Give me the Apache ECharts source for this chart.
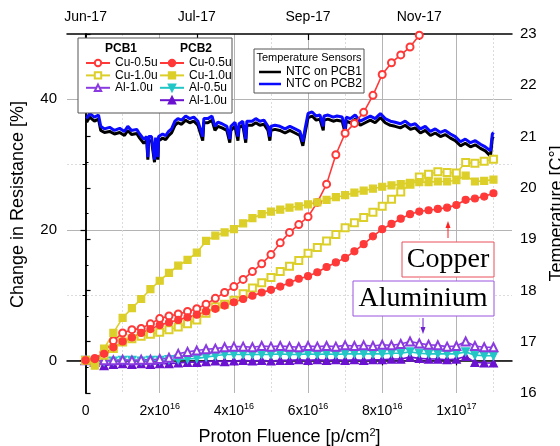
<!DOCTYPE html>
<html>
<head>
<meta charset="utf-8">
<script src="https://cdn.jsdelivr.net/npm/echarts@6/dist/echarts.min.js"></script>
<style>html,body{margin:0;padding:0;background:#fff}#c{width:560px;height:446px}</style>
</head>
<body>
<div id="c"></div>
<script>
// ---------- data (fluence in units of 1e16 p/cm^2) ----------
const fluence = [0,0.25,0.5,0.75,1,1.25,1.5,1.75,2,2.25,2.5,2.75,3,3.25,3.5,3.75,4,4.25,4.5,4.75,5,5.25,5.5,5.75,6,6.25,6.5,6.75,7,7.25,7.5,7.75,8,8.25,8.5,8.75,9,9.25,9.5,9.75,10,10.25,10.5,10.75,11];
const cu05PCB1 = [0,0.3,1.2,3.0,4.2,4.7,4.9,5.6,6.4,6.8,7.1,7.5,7.9,8.6,9.5,10.4,11.3,12.4,13.6,14.8,16.2,18.0,19.6,20.8,22.0,24.2,27.0,31.5,34.8,36.3,38.0,40.6,43.8,45.6,46.8,48.0,49.8,52.0,54.0,null,null,null,null,null,null];
const cu10PCB1 = [0,-0.3,0.8,1.8,2.8,3.3,3.7,4.0,4.3,4.7,5.1,5.6,6.2,7.2,8.2,8.6,9.2,10.2,11.1,11.9,12.7,13.6,14.4,15.3,16.4,17.3,18.3,19.3,20.3,21.1,21.9,22.7,23.6,24.7,25.8,27.0,28.1,28.5,28.9,28.8,28.7,30.3,30.2,30.5,30.8];
const al10PCB1 = [0,-0.2,0,0,0.1,0,0.1,0.1,0.2,0.4,1.0,1.3,1.5,1.7,1.8,2.0,2.1,2.1,2.0,2.2,2.1,2.2,2.1,2.0,2.2,2.1,2.2,2.1,2.3,2.2,2.3,2.2,2.4,2.3,2.5,2.9,2.6,2.4,2.3,2.1,2.2,2.9,2.2,2.0,2.0];
const cu05PCB2 = [0,0.2,1.0,2.0,2.9,3.5,4.2,4.8,5.4,5.8,6.2,6.6,7.0,7.5,7.9,8.4,8.9,9.4,9.9,10.4,10.8,11.3,11.9,12.5,12.9,13.5,14.3,15.0,15.7,16.7,17.8,19.0,20.1,20.9,21.7,22.4,22.8,23.0,23.2,23.4,23.8,24.6,24.8,25.1,25.6];
const cu10PCB2 = [0,-0.8,1.8,4.2,6.5,8.0,9.4,10.9,12.2,13.4,14.5,15.4,16.5,18.3,19.1,19.6,20.1,21.0,21.8,22.4,22.8,23.1,23.4,23.6,23.9,24.2,24.6,25.0,25.3,25.7,26.0,26.3,26.6,26.8,27.0,27.2,27.3,27.3,27.4,27.4,27.6,28.3,27.4,27.5,27.7];
const al05PCB2 = [0,-0.3,-0.2,-0.1,0,0,-0.1,0,0,0.1,0.1,0.2,0.3,0.5,0.7,0.9,0.9,0.9,0.9,0.9,0.9,1.0,0.9,0.9,1.0,0.9,1.0,0.9,1.0,1.0,1.0,1.0,1.0,1.1,1.1,1.3,1.1,1.0,1.0,1.0,1.0,1.3,0.8,0.7,0.7];
const al10PCB2 = [0,-0.3,-0.8,-0.6,-0.5,-0.6,-0.5,-0.6,-0.5,-0.5,-0.4,-0.3,-0.3,-0.2,-0.1,-0.2,-0.1,0,-0.1,0,-0.1,0,0,0.1,0,0.1,0,0.1,0,0.1,0,0.1,0.1,0.2,0.2,0.5,0.3,0.2,0.2,0.1,0.2,0.6,-0.3,-0.4,-0.4];

const tempX = [0.03,0.11,0.24,0.35,0.41,0.51,0.65,0.78,0.92,1.05,1.14,1.24,1.38,1.46,1.57,1.65,1.68,1.70,1.78,1.86,1.89,1.95,1.97,2.08,2.16,2.24,2.32,2.41,2.49,2.59,2.70,2.81,2.92,3.03,3.16,3.19,3.30,3.41,3.49,3.57,3.68,3.81,3.89,3.92,4.03,4.11,4.14,4.24,4.32,4.35,4.49,4.59,4.70,4.81,4.92,4.97,5.00,5.11,5.24,5.38,5.51,5.65,5.78,5.86,5.92,6.00,6.11,6.22,6.32,6.41,6.43,6.54,6.68,6.78,6.92,7.00,7.03,7.14,7.27,7.41,7.54,7.68,7.81,7.95,8.08,8.22,8.35,8.49,8.62,8.76,8.89,9.03,9.16,9.30,9.43,9.57,9.70,9.84,9.97,10.11,10.24,10.38,10.51,10.65,10.78,10.92,10.97,11.00];
const ntcPCB2 = [21.35,21.45,21.38,21.42,21.2,21.15,21.18,21.12,21.16,21.1,21.2,21.12,21.14,21.05,20.95,21.0,20.6,21.0,21.0,20.55,20.98,20.6,21.0,21.05,21.02,21.1,21.15,21.3,21.35,21.32,21.4,21.35,21.38,21.3,21.0,21.35,21.35,21.4,21.2,21.28,21.25,21.2,20.95,21.2,21.28,21.0,21.25,21.3,20.95,21.3,21.3,21.35,21.3,21.32,21.2,21.0,21.2,21.22,21.2,21.15,21.2,21.15,21.1,20.9,21.15,21.45,21.48,21.4,21.42,21.2,21.4,21.42,21.38,21.4,21.38,21.15,21.38,21.35,21.42,21.3,21.35,21.4,21.35,21.45,21.35,21.3,21.28,21.25,21.3,21.22,21.25,21.15,21.2,21.1,21.15,21.08,21.12,21.05,21.0,20.9,20.95,20.88,20.92,20.85,20.8,20.72,21.05,21.08];
const ntcPCB1 = [21.28,21.38,21.3,21.34,21.12,21.08,21.1,21.05,21.08,21.02,21.12,21.04,21.06,20.97,20.87,20.92,20.55,20.92,20.92,20.5,20.9,20.55,20.92,20.97,20.94,21.02,21.07,21.22,21.27,21.24,21.32,21.27,21.3,21.22,20.92,21.27,21.27,21.32,21.12,21.2,21.17,21.12,20.88,21.12,21.2,20.92,21.17,21.22,20.88,21.22,21.22,21.27,21.22,21.24,21.12,20.92,21.12,21.14,21.12,21.07,21.12,21.07,21.02,20.82,21.07,21.37,21.4,21.32,21.34,21.12,21.32,21.34,21.3,21.32,21.3,21.07,21.3,21.27,21.34,21.22,21.27,21.32,21.27,21.37,21.27,21.22,21.2,21.17,21.22,21.14,21.17,21.07,21.12,21.02,21.07,21.0,21.04,20.97,20.92,20.82,20.87,20.8,20.84,20.77,20.72,20.62,20.97,21.0];

// tick labels
const fluenceTicks = [0, 2, 4, 6, 8, 10];
const fluenceMinorTicks = [1, 3, 5, 7, 9, 11];
const dateTickPos = [0, 3, 6, 9];
const dateLabels = ['Jun-17', 'Jul-17', 'Sep-17', 'Nov-17'];
const resTicks = [0, 20, 40];
const resMinorTicks = [10, 30];

// ---------- chart ----------
const FONT = 'Liberation Sans, Arial, sans-serif';
const pair = (xs, ys) => xs.map((x, i) => [x, ys[i]]).filter(p => p[1] !== null);
const fmtFluence = v => {
  if (Math.abs(v) < 1e-9) return '{b|0}';
  if (Math.abs(v - 10) < 1e-9) return '{b|1x10}{s|17}';
  return '{b|' + Math.round(v) + 'x10}{s|16}';
};
const richSup = {
  b: { fontSize: 14, fontFamily: FONT, color: '#000', lineHeight: 16, verticalAlign: 'bottom' },
  s: { fontSize: 9, fontFamily: FONT, color: '#000', lineHeight: 9, verticalAlign: 'top' }
};
const axisBlack = { show: true, lineStyle: { color: '#000', width: 1.5 } };
const gridSolid = { show: true, lineStyle: { color: '#b4b4b4', width: 1 } };
const gridMinor = { show: true, lineStyle: { color: '#dcdcdc', width: 1, type: [2, 2] } };

const C = {
  red: '#ff3838', yellow: '#dccf2a', cyan: '#22c6c6', purpleOpen: '#8a3be0', purple: '#6a12d0'
};

function resSeries(name, ys, color, symbol, size, extra) {
  return Object.assign({
    name: name, type: 'line', xAxisIndex: 0, yAxisIndex: 0,
    data: pair(fluence, ys),
    symbol: symbol, symbolSize: size, showSymbol: true,
    lineStyle: { color: color, width: 1.6 },
    itemStyle: { color: color, borderColor: color, borderWidth: 1.2 },
    z: 3
  }, extra || {});
}

const chart = echarts.init(document.getElementById('c'), null, { renderer: 'canvas' });
const legendText = { fontFamily: FONT, fontSize: 12, color: '#000', lineHeight: 12 };
const stripName = n => n.replace(/ \(PCB\d\)$/, '');

chart.setOption({
  animation: false,
  backgroundColor: '#fff',
  grid: { left: 67, right: 48, top: 34, bottom: 53, containLabel: false, outerBoundsMode: 'none' },
  xAxis: [
    { type: 'value', position: 'bottom', min: -0.5, max: 11.5,
      axisLine: axisBlack,
      axisTick: { show: true, inside: false, length: 5, customValues: fluenceTicks, lineStyle: { color: '#000', width: 1.2 } },
      axisLabel: { customValues: fluenceTicks, formatter: fmtFluence, rich: richSup, margin: 9 },
      splitLine: gridSolid,
      name: '{a|Proton Fluence [p/cm}{s|2}{a|]}', nameLocation: 'middle', nameGap: 34,
      nameTextStyle: { rich: {
        a: { fontSize: 18, fontFamily: FONT, color: '#000', lineHeight: 19, verticalAlign: 'bottom' },
        s: { fontSize: 11, fontFamily: FONT, color: '#000', lineHeight: 11, verticalAlign: 'top' } } }
    },
    { type: 'value', position: 'bottom', min: -0.5, max: 11.5,
      axisLine: { show: false },
      axisTick: { show: true, inside: false, length: 3, customValues: fluenceMinorTicks, lineStyle: { color: '#000', width: 1 } },
      axisLabel: { show: false },
      splitLine: gridMinor
    },
    { type: 'value', position: 'top', min: -0.5, max: 11.5,
      axisLine: axisBlack,
      axisTick: { show: true, inside: true, length: 6, customValues: dateTickPos, lineStyle: { color: '#000', width: 1.2 } },
      axisLabel: { customValues: dateTickPos, margin: 10, fontFamily: FONT, fontSize: 14, color: '#000',
        formatter: v => { const i = dateTickPos.indexOf(Math.round(v)); return i >= 0 ? dateLabels[i] : ''; } },
      splitLine: { show: false }
    }
  ],
  yAxis: [
    { type: 'value', position: 'left', min: -5, max: 50,
      axisLine: axisBlack,
      axisTick: { show: true, inside: false, length: 5, customValues: resTicks, lineStyle: { color: '#000', width: 1.2 } },
      axisLabel: { customValues: resTicks, fontFamily: FONT, fontSize: 15, color: '#000', margin: 10 },
      splitLine: gridSolid,
      name: 'Change in Resistance [%]', nameLocation: 'middle', nameRotate: 90, nameGap: 40,
      nameTextStyle: { fontFamily: FONT, fontSize: 18, color: '#000', padding: [0, 0, 0, 18] }
    },
    { type: 'value', position: 'left', min: -5, max: 50,
      axisLine: { show: false },
      axisTick: { show: true, inside: false, length: 3, customValues: resMinorTicks, lineStyle: { color: '#000', width: 1 } },
      axisLabel: { show: false },
      splitLine: gridMinor
    },
    { type: 'value', position: 'right', min: 16, max: 23, interval: 1,
      axisLine: axisBlack,
      axisTick: { show: true, inside: false, length: 5, lineStyle: { color: '#000', width: 1.2 } },
      minorTick: { show: true, splitNumber: 2, length: 3, lineStyle: { color: '#000', width: 1 } },
      axisLabel: { fontFamily: FONT, fontSize: 15, color: '#000', margin: 8 },
      splitLine: { show: false },
      name: 'Temperature [C°]', nameLocation: 'middle', nameRotate: 90, nameGap: 31,
      nameTextStyle: { fontFamily: FONT, fontSize: 18, color: '#000' }
    }
  ],
  legend: [
    { data: ['Cu-0.5u (PCB1)', 'Cu-1.0u (PCB1)', 'Al-1.0u (PCB1)'], formatter: stripName,
      orient: 'vertical', left: 85, top: 57, padding: 0, itemGap: 0.4, itemWidth: 24, itemHeight: 8,
      textStyle: legendText, selectedMode: false },
    { data: ['Cu-0.5u (PCB2)', 'Cu-1.0u (PCB2)', 'Al-0.5u (PCB2)', 'Al-1.0u (PCB2)'], formatter: stripName,
      orient: 'vertical', left: 159, top: 57, padding: 0, itemGap: 0.4, itemWidth: 24, itemHeight: 8,
      textStyle: legendText, selectedMode: false },
    { data: [{ name: 'NTC on PCB1', icon: 'rect' }, { name: 'NTC on PCB2', icon: 'rect' }],
      orient: 'vertical', left: 259, top: 66, padding: 0, itemGap: 0, itemWidth: 22, itemHeight: 2.5,
      textStyle: { fontFamily: FONT, fontSize: 12, color: '#000', lineHeight: 11 }, selectedMode: false }
  ],
  graphic: [
    { type: 'rect', z: 3, shape: { x: 78, y: 38, width: 154, height: 75 }, style: { fill: '#fff', stroke: '#555', lineWidth: 1 } },
    { type: 'text', z: 5, x: 121, y: 49, style: { text: 'PCB1', font: 'bold 12px ' + FONT, fill: '#000', align: 'center', verticalAlign: 'middle' } },
    { type: 'text', z: 5, x: 196, y: 49, style: { text: 'PCB2', font: 'bold 12px ' + FONT, fill: '#000', align: 'center', verticalAlign: 'middle' } },
    { type: 'rect', z: 3, shape: { x: 254, y: 49, width: 110, height: 44 }, style: { fill: '#fff', stroke: '#555', lineWidth: 1 } },
    { type: 'text', z: 5, x: 309, y: 58, style: { text: 'Temperature Sensors', font: '11px ' + FONT, fill: '#000', align: 'center', verticalAlign: 'middle' } },
    // Copper annotation
    { type: 'rect', z: 5, shape: { x: 402, y: 242, width: 92, height: 35 }, style: { fill: '#fff', stroke: '#e8505a', lineWidth: 1 } },
    { type: 'text', z: 6, x: 448, y: 260, style: { text: 'Copper', font: '28px Liberation Serif, Times New Roman, serif', fill: '#000', align: 'center', verticalAlign: 'middle' } },
    { type: 'line', z: 5, shape: { x1: 448, y1: 238, x2: 448, y2: 226 }, style: { stroke: '#ff2020', lineWidth: 1 } },
    { type: 'polygon', z: 5, shape: { points: [[448, 221], [445.5, 228], [450.5, 228]] }, style: { fill: '#ff2020' } },
    // Aluminium annotation
    { type: 'rect', z: 5, shape: { x: 353, y: 281, width: 141, height: 35 }, style: { fill: '#fff', stroke: '#9a55e0', lineWidth: 1 } },
    { type: 'text', z: 6, x: 423, y: 299, style: { text: 'Aluminium', font: '28px Liberation Serif, Times New Roman, serif', fill: '#000', align: 'center', verticalAlign: 'middle' } },
    { type: 'line', z: 5, shape: { x1: 423, y1: 318, x2: 423, y2: 329 }, style: { stroke: '#7020d0', lineWidth: 1 } },
    { type: 'polygon', z: 5, shape: { points: [[423, 334], [420.5, 327], [425.5, 327]] }, style: { fill: '#7020d0' } }
  ],
  series: [
    { name: 'NTC on PCB1', type: 'line', xAxisIndex: 0, yAxisIndex: 2, data: pair(tempX, ntcPCB1),
      symbol: 'none', lineStyle: { color: '#000', width: 3 }, itemStyle: { color: '#000' }, z: 2 },
    { name: 'NTC on PCB2', type: 'line', xAxisIndex: 0, yAxisIndex: 2, data: pair(tempX, ntcPCB2),
      symbol: 'none', lineStyle: { color: '#0a0aff', width: 3 }, itemStyle: { color: '#0a0aff' }, z: 2 },
    resSeries('Al-1.0u (PCB2)', al10PCB2, C.purple, 'triangle', 8),
    resSeries('Al-0.5u (PCB2)', al05PCB2, C.cyan, 'triangle', 8, { symbolRotate: 180 }),
    resSeries('Al-1.0u (PCB1)', al10PCB1, C.purpleOpen, 'emptyTriangle', 8),
    resSeries('Cu-1.0u (PCB1)', cu10PCB1, C.yellow, 'emptyRect', 7),
    resSeries('Cu-0.5u (PCB1)', cu05PCB1, C.red, 'emptyCircle', 7),
    resSeries('Cu-1.0u (PCB2)', cu10PCB2, C.yellow, 'rect', 7),
    resSeries('Cu-0.5u (PCB2)', cu05PCB2, C.red, 'circle', 7)
  ]
});
</script>
</body>
</html>
